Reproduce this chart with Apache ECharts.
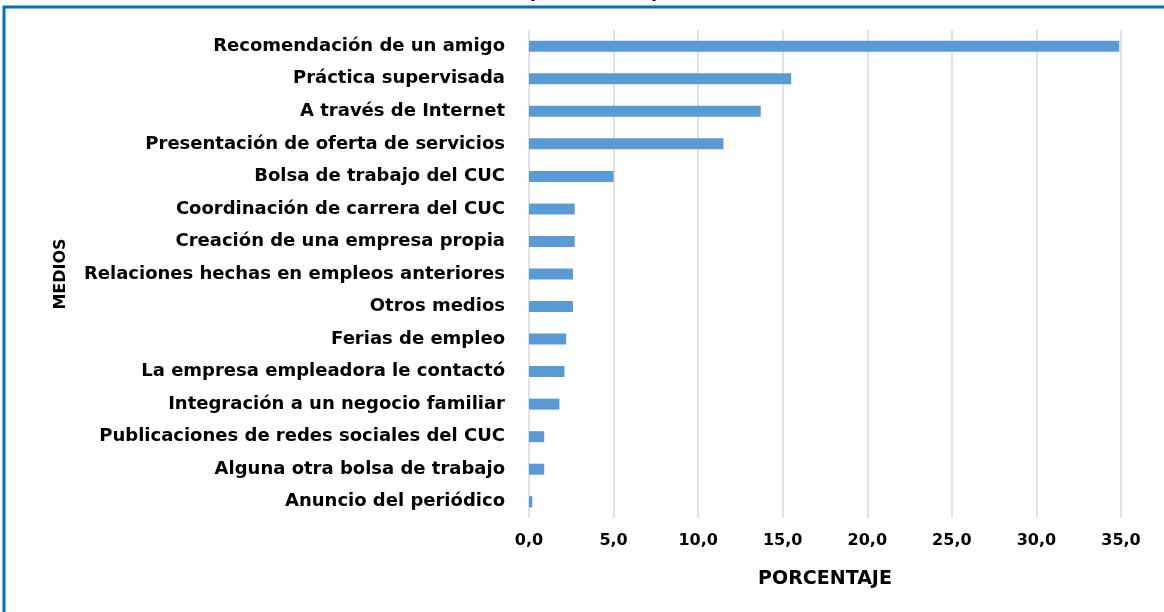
<!DOCTYPE html>
<html>
<head>
<meta charset="utf-8">
<script src="https://cdn.jsdelivr.net/npm/echarts@6/dist/echarts.min.js"></script>
<style>
  html, body { margin: 0; padding: 0; background: #fff; }
  #chart { width: 1164px; height: 612px; }
</style>
</head>
<body>
<div id="chart"></div>
<script>
// Medios por los que se consiguió el empleo (porcentaje), de abajo hacia arriba
const medios = [
  'Anuncio del periódico',
  'Alguna otra bolsa de trabajo',
  'Publicaciones de redes sociales del CUC',
  'Integración a un negocio familiar',
  'La empresa empleadora le contactó',
  'Ferias de empleo',
  'Otros medios',
  'Relaciones hechas en empleos anteriores',
  'Creación de una empresa propia',
  'Coordinación de carrera del CUC',
  'Bolsa de trabajo del CUC',
  'Presentación de oferta de servicios',
  'A través de Internet',
  'Práctica supervisada',
  'Recomendación de un amigo'
];
const porcentajes = [0.2, 0.9, 0.9, 1.8, 2.1, 2.2, 2.6, 2.6, 2.7, 2.7, 5.0, 11.5, 13.7, 15.5, 34.9];

const FONT = '"DejaVu Sans", "Open Sans", sans-serif';

const chart = echarts.init(document.getElementById('chart'), null, { renderer: 'canvas' });
chart.setOption({
  animation: false,
  backgroundColor: '#ffffff',
  grid: { left: 529, right: 43, top: 30, bottom: 94, containLabel: false },
  xAxis: {
    type: 'value',
    min: 0,
    max: 35,
    interval: 5,
    axisLine: { show: false },
    axisTick: { show: false },
    splitLine: { show: true, lineStyle: { color: '#d9d9d9', width: 1.5 } },
    axisLabel: {
      margin: 15,
      color: '#000',
      fontFamily: FONT,
      fontWeight: 'bold',
      fontSize: 16,
      formatter: v => v.toFixed(1).replace('.', ',')
    },
    name: 'PORCENTAJE',
    nameLocation: 'middle',
    nameGap: 52,
    nameTextStyle: { color: '#000', fontFamily: FONT, fontWeight: 'bold', fontSize: 19 }
  },
  yAxis: {
    type: 'category',
    data: medios,
    axisLine: { show: false },
    axisTick: { show: false },
    axisLabel: {
      margin: 24,
      color: '#000',
      fontFamily: FONT,
      fontWeight: 'bold',
      fontSize: 18
    },
    name: 'MEDIOS',
    nameLocation: 'middle',
    nameGap: 460,
    nameRotate: 90,
    nameTextStyle: { color: '#000', fontFamily: FONT, fontWeight: 'bold', fontSize: 16 }
  },
  series: [{
    type: 'bar',
    data: porcentajes,
    barWidth: 11,
    itemStyle: { color: '#5b9bd5' }
  }],
  graphic: [
    {
      type: 'text',
      z: 5,
      style: {
        text: '(Respuesta múltiple)',
        x: 588, y: 1,
        align: 'center', verticalAlign: 'bottom',
        fill: '#000',
        font: 'bold 17px ' + FONT
      }
    },
    {
      type: 'rect',
      z: 10,
      silent: true,
      shape: { x: 4, y: 7, width: 1300, height: 700 },
      style: { fill: 'none', stroke: '#0070c0', lineWidth: 3 }
    }
  ]
});
</script>
</body>
</html>
